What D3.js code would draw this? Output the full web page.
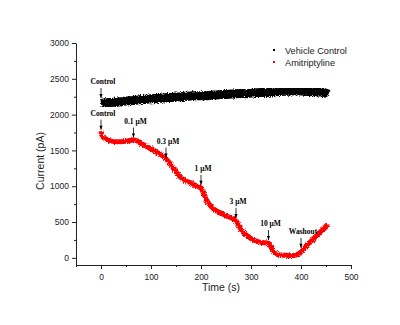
<!DOCTYPE html>
<html><head><meta charset="utf-8">
<script src="https://cdn.jsdelivr.net/npm/d3@7/dist/d3.min.js"></script>
<style>body{margin:0;background:#fff}svg{display:block}</style>
</head><body>
<script>
const vehicleT = [0,10,20,30,40,50,60,70,80,90,100,110,120,130,140,150,160,170,180,190,200,210,220,230,240,250,260,270,280,290,300,310,320,330,340,350,360,370,380,390,400,410,420,430,440,450,455];
const vehicleV = [2155,2165,2170,2175,2180,2190,2195,2200,2210,2215,2220,2225,2230,2235,2240,2245,2250,2255,2260,2265,2265,2262,2270,2275,2282,2280,2287,2292,2296,2292,2300,2305,2310,2306,2315,2320,2322,2325,2330,2332,2330,2325,2320,2318,2315,2300,2285];
const amiT = [0,2,5,10,20,30,40,50,60,65,70,80,90,100,110,120,130,140,150,160,170,180,190,200,205,210,220,230,240,250,260,270,280,290,300,310,320,330,335,340,345,350,360,370,380,390,400,410,420,430,440,450,455];
const amiV = [1770,1700,1680,1660,1630,1620,1620,1630,1640,1645,1640,1600,1560,1520,1480,1440,1380,1300,1200,1120,1075,1045,1005,975,900,820,720,660,625,590,560,520,400,320,270,235,215,210,205,150,90,55,40,35,30,40,80,160,230,300,370,430,465];
const annotT = [0,0,65,130,200,270,335,400];
const annotV = [2232,1790,1680,1400,1020,558,250,140];
const annotLabels = ["Control","Control","0.1 μM","0.3 μM","1 μM","3 μM","10 μM","Washout"];
const seriesNames = ["Vehicle Control","Amitriptyline"];
const seriesColors = ["#000000","#ff0000"];
const xTicks = [0,100,200,300,400,500];
const yTicks = [0,500,1000,1500,2000,2500,3000];

const W=400,H=325;
const svg=d3.select("body").append("svg").attr("width",W).attr("height",H);
const x=d3.scaleLinear().domain([-50,500]).range([76,351]);
const y=d3.scaleLinear().domain([-100,3000]).range([265,43]);

const defs=svg.append("defs");
const f=defs.append("filter").attr("id","rough").attr("x","-5%").attr("y","-20%").attr("width","110%").attr("height","140%");
f.append("feTurbulence").attr("type","fractalNoise").attr("baseFrequency","0.9").attr("numOctaves",2).attr("seed",3).attr("result","n");
f.append("feDisplacementMap").attr("in","SourceGraphic").attr("in2","n").attr("scale",4).attr("xChannelSelector","R").attr("yChannelSelector","G");

const line=d3.line().x(d=>x(d[0])).y(d=>y(d[1])).curve(d3.curveMonotoneX);
svg.append("path").datum(vehicleT.map((t,i)=>[t,vehicleV[i]]))
  .attr("d",line).attr("fill","none").attr("stroke",seriesColors[0]).attr("stroke-width",9).attr("filter","url(#rough)");
svg.append("path").datum(amiT.map((t,i)=>[t,amiV[i]]))
  .attr("d",line).attr("fill","none").attr("stroke",seriesColors[1]).attr("stroke-width",5).attr("filter","url(#rough)");

// axes
const xa=svg.append("g").attr("transform","translate(0,265)");
xa.call(d3.axisBottom(x).tickValues(xTicks).tickSize(4).tickSizeOuter(0).tickFormat(d3.format("d")));
xa.append("g").call(d3.axisBottom(x).tickValues(d3.range(-50,501,50).filter(v=>v%100!==0)).tickSize(2).tickFormat("").tickSizeOuter(0)).select(".domain").remove();
const ya=svg.append("g").attr("transform","translate(76,0)");
ya.call(d3.axisLeft(y).tickValues(yTicks).tickSize(4).tickSizeOuter(0).tickFormat(d3.format("d")));
ya.append("g").call(d3.axisLeft(y).tickValues(d3.range(250,3000,500)).tickSize(2).tickFormat("").tickSizeOuter(0)).select(".domain").remove();
svg.selectAll(".tick text").attr("font-family","Liberation Sans, Arial").attr("font-size",8.5).attr("fill","#222");
svg.selectAll(".domain,.tick line").attr("stroke","#222");
xa.selectAll(".tick text").attr("dy","0.9em");

svg.append("text").attr("x",221).attr("y",291).attr("text-anchor","middle")
  .attr("font-family","Liberation Sans, Arial").attr("font-size",10.5).attr("fill","#222").text("Time (s)");
svg.append("text").attr("transform","translate(44,161) rotate(-90)").attr("text-anchor","middle")
  .attr("font-family","Liberation Sans, Arial").attr("font-size",10.5).attr("fill","#222").text("Current (pA)");

// legend
seriesNames.forEach((n,i)=>{
  svg.append("rect").attr("x",273).attr("y",49+i*12).attr("width",2).attr("height",2).attr("fill",seriesColors[i]);
  svg.append("text").attr("x",285).attr("y",53.5+i*12).attr("font-family","Liberation Sans, Arial").attr("font-size",9.2).attr("fill","#222").text(n);
});

// annotations
annotT.forEach((t,i)=>{
  const tip=y(annotV[i]);
  const px=x(t);
  svg.append("line").attr("x1",px).attr("x2",px).attr("y1",tip-10).attr("y2",tip).attr("stroke","#000").attr("stroke-width",0.8);
  svg.append("path").attr("d",`M${px-1.6},${tip-4}L${px+1.6},${tip-4}L${px},${tip}Z`).attr("fill","#000");
  svg.append("text").attr("x",px+2).attr("y",tip-13.5).attr("text-anchor","middle")
    .attr("font-family","Liberation Serif, Times New Roman").attr("font-weight","bold").attr("font-size",7.5).attr("fill","#000").text(annotLabels[i]);
});
</script>
</body></html>
